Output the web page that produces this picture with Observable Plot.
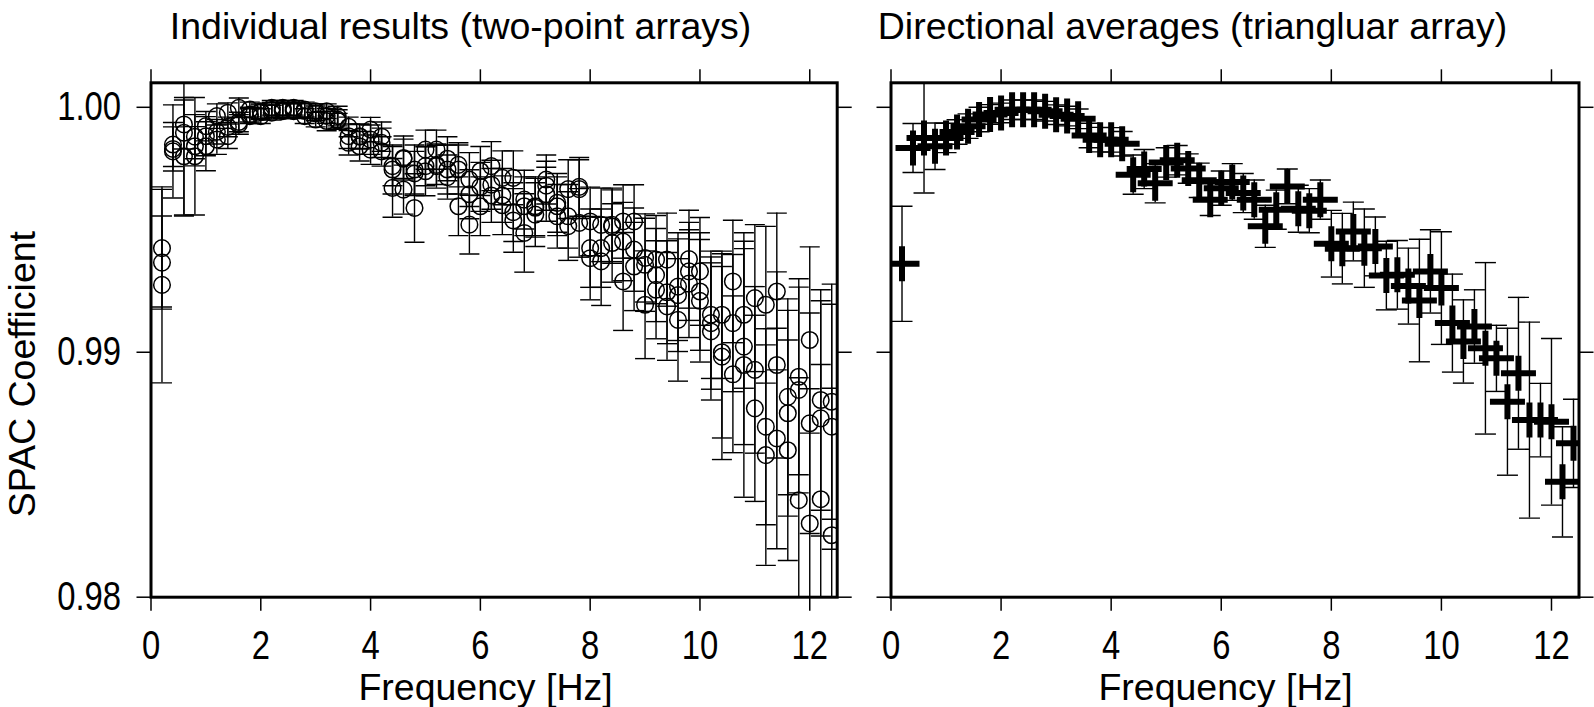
<!DOCTYPE html>
<html>
<head>
<meta charset="utf-8">
<script src="https://cdn.jsdelivr.net/npm/d3@7"></script>
<script src="https://cdn.jsdelivr.net/npm/@observablehq/plot@0.6"></script>
<style>
html, body { margin: 0; padding: 0; background: #fff; }
#wrap { position: relative; width: 1594px; height: 707px; overflow: hidden; background: #fff; }
#wrap svg { position: absolute; top: 0; max-width: none; }
</style>
</head>
<body>
<div id="wrap"></div>
<script>
// ---------------- DATA ----------------
const leftTitle = "Individual results (two-point arrays)";
const rightTitle = "Directional averages (triangluar array)";
const xLabel = "Frequency [Hz]";
const yLabel = "SPAC Coefficient";
const xTicks = [0, 2, 4, 6, 8, 10, 12];
const yTicks = [0.98, 0.99, 1.00];

// frequencies [Hz]
const freqs = [0.2, 0.4, 0.6, 0.8, 1.0, 1.2, 1.4, 1.6, 1.8, 2.0, 2.2, 2.4, 2.6, 2.8, 3.0, 3.2, 3.4, 3.6, 3.8, 4.0,
  4.2, 4.4, 4.6, 4.8, 5.0, 5.2, 5.4, 5.6, 5.8, 6.0, 6.2, 6.4, 6.6, 6.8, 7.0, 7.2, 7.4, 7.6, 7.8, 8.0,
  8.2, 8.4, 8.6, 8.8, 9.0, 9.2, 9.4, 9.6, 9.8, 10.0, 10.2, 10.4, 10.6, 10.8, 11.0, 11.2, 11.4, 11.6, 11.8, 12.0,
  12.2, 12.4];

// left panel: three two-point arrays (SPAC coefficient)
const pairA = [0.99425, 0.99848, 0.9993, 0.99841, 0.99923, 0.99964, 0.99978, 0.99998, 0.99991, 0.99984, 0.99998, 0.99998, 0.99998, 0.99991, 0.99984, 0.99984, 0.99964, 0.99882, 0.99882, 0.99909,
  0.99855, 0.99746, 0.99793, 0.99746, 0.99827, 0.99827, 0.9979, 0.99746, 0.99705, 0.9974, 0.9976, 0.99712, 0.99712, 0.99623, 0.99596, 0.99705, 0.99596, 0.99666, 0.99666, 0.99534,
  0.9952, 0.9952, 0.99534, 0.99534, 0.99385, 0.99378, 0.99378, 0.99268, 0.9933, 0.9933, 0.99153, 0.99153, 0.99289, 0.99153, 0.99221, 0.99194, 0.99248, 0.98818, 0.989, 0.9905,
  0.98805, 0.98798];
const pairB = [0.99366, 0.9982, 0.99896, 0.998, 0.99882, 0.99868, 0.99882, 0.9993, 0.99964, 0.99964, 0.99978, 0.99984, 0.99984, 0.99964, 0.9995, 0.99944, 0.9995, 0.99855, 0.99841, 0.99868,
  0.9982, 0.99671, 0.99664, 0.99589, 0.99739, 0.9976, 0.99746, 0.99596, 0.99521, 0.99596, 0.99684, 0.9964, 0.99572, 0.99596, 0.99562, 0.9968, 0.99555, 0.99555, 0.99528, 0.99425,
  0.99425, 0.99446, 0.99289, 0.99419, 0.99357, 0.99255, 0.99187, 0.99132, 0.9938, 0.99248, 0.99119, 0.98982, 0.99119, 0.99023, 0.98928, 0.98696, 0.98948, 0.98751, 0.98846, 0.9871,
  0.9873, 0.98696];
const pairC = [0.99275, 0.9983, 0.998, 0.9988, 0.99841, 0.999, 0.9992, 0.9994, 0.9997, 0.9998, 0.9999, 0.9999, 0.9999, 0.99985, 0.99975, 0.99965, 0.99945, 0.9992, 0.9988, 0.99827,
  0.9988, 0.9976, 0.9979, 0.9973, 0.9976, 0.99765, 0.99715, 0.99765, 0.99645, 0.99675, 0.9964, 0.996, 0.99538, 0.99487, 0.9959, 0.99645, 0.9961, 0.99515, 0.99675, 0.99384,
  0.99371, 0.99513, 0.99452, 0.9935, 0.99194, 0.99315, 0.99245, 0.99233, 0.9928, 0.9921, 0.99085, 0.99, 0.9891, 0.98948, 0.98771, 0.9858, 0.98648, 0.986, 0.98396, 0.98301,
  0.984, 0.98253];
// standard deviations, in units of 1e-4
const errA = [24, 9, 10, 8, 6, 5, 4, 4, 3, 3, 3, 3, 3, 3, 3, 3, 4, 5, 5, 5, 6, 10, 9, 10, 8, 8, 9, 10, 11, 10, 10, 11, 11, 12, 12, 10, 12, 12, 12, 14,
  15, 15, 15, 15, 18, 18, 19, 22, 20, 22, 26, 26, 25, 30, 30, 32, 32, 40, 40, 38, 45, 48];
const errB = [19, 19, 34, 24, 8, 6, 5, 4, 3, 3, 3, 3, 3, 3, 3, 4, 4, 5, 6, 6, 6, 12, 10, 14, 10, 9, 10, 12, 12, 12, 10, 11, 12, 12, 13, 10, 13, 13, 14, 16,
  16, 16, 20, 17, 19, 20, 22, 25, 20, 24, 27, 42, 28, 40, 34, 40, 38, 42, 42, 45, 48, 50];
const errC = [40, 9, 24, 9, 10, 5, 4, 4, 3, 3, 3, 3, 3, 3, 3, 3, 3, 4, 5, 6, 6, 8, 8, 9, 8, 8, 9, 9, 10, 10, 11, 12, 13, 16, 12, 11, 12, 14, 12, 17,
  18, 15, 16, 18, 22, 19, 21, 23, 22, 25, 28, 35, 32, 54, 38, 45, 45, 45, 50, 55, 55, 60];

// right panel: directional averages (triangular array)
const avgValues = [0.99361, 0.99834, 0.99875, 0.99841, 0.99875, 0.99899, 0.99923, 0.9995, 0.99971, 0.99977, 0.9999, 0.9999, 0.9999, 0.99984, 0.9997, 0.99964, 0.99953, 0.99885, 0.99868, 0.99867,
  0.99851, 0.99725, 0.99748, 0.9969, 0.99775, 0.99784, 0.9975, 0.99702, 0.99623, 0.9967, 0.99695, 0.9965, 0.99623, 0.99514, 0.99582, 0.99677, 0.99586, 0.99578, 0.99623, 0.99443,
  0.99423, 0.99493, 0.99425, 0.99432, 0.99313, 0.99316, 0.9927, 0.99211, 0.9933, 0.99262, 0.99119, 0.99044, 0.99105, 0.99016, 0.98975, 0.98798, 0.98914, 0.98723, 0.98723, 0.98716,
  0.98471, 0.98628];
// in units of 1e-4
const avgErr = [23.5, 10, 22.5, 9.5, 6, 5, 5, 5, 4, 4, 4, 4, 4, 4, 4, 4, 4, 5, 5, 5, 5, 8, 8, 8, 6, 6, 6, 7, 6.5, 7, 7.5, 8, 8, 8.6, 8, 7.1, 9.6, 9, 8, 13.6,
  14.4, 12, 16, 12, 14, 14, 15.5, 25, 17, 23, 20, 17, 15, 35, 13.5, 30, 31, 40, 15, 34, 22.5, 18];

// ---------------- TABLES ----------------
const leftRows = [];
freqs.forEach((f, i) => {
  [[pairA, errA], [pairB, errB], [pairC, errC]].forEach(([v, e]) => {
    leftRows.push({f, v: v[i], lo: v[i] - e[i] * 1e-4, hi: v[i] + e[i] * 1e-4});
  });
});
const rightRows = freqs.map((f, i) => ({f, v: avgValues[i], lo: avgValues[i] - avgErr[i] * 1e-4, hi: avgValues[i] + avgErr[i] * 1e-4}));

// ---------------- SYMBOLS ----------------
const capSymbol = {draw(ctx, size) { const w = Math.sqrt(size / Math.PI); ctx.moveTo(-w, 0); ctx.lineTo(w, 0); }};
const plusSymbol = {draw(ctx, size) { const w = Math.sqrt(size / Math.PI); ctx.moveTo(-w, 0); ctx.lineTo(w, 0); ctx.moveTo(0, -w); ctx.lineTo(0, w); }};

const FONT = "'Liberation Sans', Arial, Helvetica, sans-serif";
const H = 707, MT = 82.3, MB = 110.3;

function axes(labelsLeft) {
  return [
    Plot.frame({stroke: "black", strokeWidth: 3}),
    Plot.axisX({anchor: "bottom", ticks: xTicks, tickSize: 14, tickPadding: 19, strokeWidth: 1.5, tickFormat: d => String(d), label: null}),
    Plot.axisX({anchor: "top", ticks: xTicks, tickSize: 14, strokeWidth: 1.5, tickFormat: () => "", label: null}),
    Plot.axisY({anchor: "left", ticks: yTicks, tickSize: 14, tickPadding: 16, strokeWidth: 1.5, tickFormat: labelsLeft ? d3.format(".2f") : () => "", label: null}),
    Plot.axisY({anchor: "right", ticks: yTicks, tickSize: 14, strokeWidth: 1.5, tickFormat: () => "", label: null})
  ];
}

function errorMarks(rows, capR) {
  return [
    Plot.ruleX(rows, {x: "f", y1: "lo", y2: "hi", stroke: "black", strokeWidth: 1.4, clip: true}),
    Plot.dot(rows, {x: "f", y: "lo", symbol: capSymbol, r: capR, stroke: "black", fill: "none", strokeWidth: 1.4, clip: true}),
    Plot.dot(rows, {x: "f", y: "hi", symbol: capSymbol, r: capR, stroke: "black", fill: "none", strokeWidth: 1.4, clip: true})
  ];
}

const textBase = {fontSize: 37.5, fill: "black", lineAnchor: "middle", textAnchor: "middle"};

const p1 = Plot.plot({
  width: 863, height: H,
  marginLeft: 150.5, marginRight: 26.3, marginTop: MT, marginBottom: MB,
  style: {fontFamily: FONT, fontSize: "40px", color: "black", background: "transparent", overflow: "visible"},
  x: {domain: [0, 12.5]},
  y: {domain: [0.98, 1.001]},
  marks: [
    ...errorMarks(leftRows, 10),
    Plot.dot(leftRows, {x: "f", y: "v", r: 8.3, stroke: "black", fill: "none", strokeWidth: 1.5, clip: true}),
    ...axes(true),
    Plot.text([leftTitle], {...textBase, frameAnchor: "top", dx: -33.6, dy: -56.3}),
    Plot.text([xLabel], {...textBase, frameAnchor: "bottom", dx: -8.6, dy: 90.3}),
    Plot.text([yLabel], {...textBase, frameAnchor: "left", rotate: -90, dx: -128.5, dy: 34.1})
  ]
});

const p2 = Plot.plot({
  width: 731, height: H,
  marginLeft: 27.5, marginRight: 15.5, marginTop: MT, marginBottom: MB,
  style: {fontFamily: FONT, fontSize: "40px", color: "black", background: "transparent", overflow: "visible"},
  x: {domain: [0, 12.5]},
  y: {domain: [0.98, 1.001]},
  marks: [
    ...errorMarks(rightRows, 10.5),
    Plot.dot(rightRows, {x: "f", y: "v", symbol: plusSymbol, r: 17.5, stroke: "black", fill: "none", strokeWidth: 6, clip: true}),
    ...axes(false),
    Plot.text([rightTitle], {...textBase, frameAnchor: "top", dx: -42.5, dy: -56.3}),
    Plot.text([xLabel], {...textBase, frameAnchor: "bottom", dx: -9.5, dy: 90.3})
  ]
});

const wrap = document.getElementById("wrap");
p1.style.left = "0px";
p2.style.left = "863px";
wrap.appendChild(p1);
wrap.appendChild(p2);

// tick labels in the reference use a narrow face: condense them horizontally
wrap.querySelectorAll('g[aria-label*="tick label"] text').forEach(t => {
  const w = t.getComputedTextLength();
  if (w > 0) {
    t.setAttribute("textLength", (w * 0.82).toFixed(2));
    t.setAttribute("lengthAdjust", "spacingAndGlyphs");
  }
});
</script>
</body>
</html>
